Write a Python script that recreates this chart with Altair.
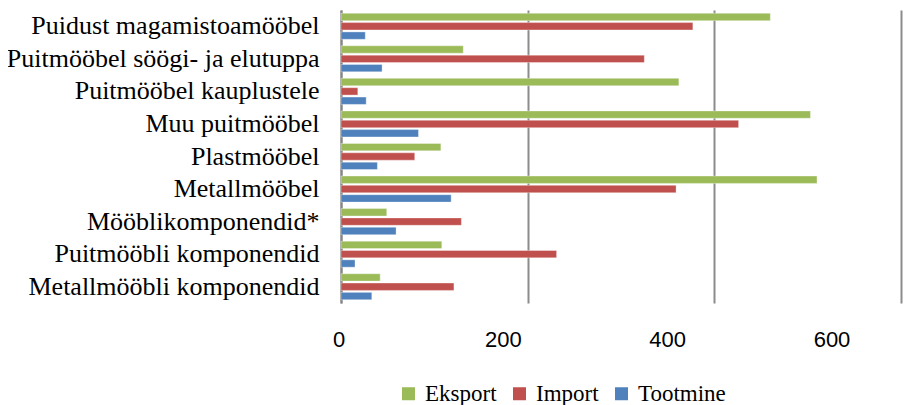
import altair as alt
import pandas as pd

categories = [
    "Puidust magamistoamööbel",
    "Puitmööbel söögi- ja elutuppa ",
    "Puitmööbel kauplustele ",
    "Muu puitmööbel ",
    "Plastmööbel",
    "Metallmööbel",
    "Mööblikomponendid*",
    "Puitmööbli komponendid ",
    "Metallmööbli komponendid",
]
series = ["Eksport", "Import", "Tootmine"]
colors = ["#9BBB59", "#C0504D", "#4F81BD"]
eksport = [460, 131, 362, 503, 107, 510, 49, 108, 42]
import_ = [377, 325, 18, 426, 79, 359, 129, 231, 121]
tootmine = [26, 44, 27, 83, 39, 118, 59, 15, 33]
tick_values = [0, 200, 400, 600]

rows = []
for i, c in enumerate(categories):
    for s, vals in zip(series, [eksport, import_, tootmine]):
        rows.append({"kategooria": c, "seeria": s, "väärtus": vals[i]})
df = pd.DataFrame(rows)
ticks_df = pd.DataFrame({"v": tick_values, "lbl": [str(t) for t in tick_values]})

bars = alt.Chart(df).mark_bar(stroke="white", strokeOpacity=0.35, strokeWidth=1).encode(
    x=alt.X(
        "väärtus:Q",
        scale=alt.Scale(domain=[0, 600], nice=False),
        axis=alt.Axis(
            values=tick_values, grid=True, gridColor="#8c8c8c", gridWidth=2,
            labels=False, ticks=False, domain=False, title=None,
        ),
    ),
    y=alt.Y(
        "kategooria:N",
        sort=categories,
        scale=alt.Scale(paddingInner=0.2, paddingOuter=0.1),
        axis=alt.Axis(
            title=None, ticks=False, domain=True, domainColor="#868686", domainWidth=2,
            labelFont="Liberation Serif", labelFontSize=26, labelColor="#000000",
            labelPadding=22, labelLimit=400,
        ),
    ),
    yOffset=alt.YOffset("seeria:N", sort=series, scale=alt.Scale(paddingInner=0.21, paddingOuter=0)),
    color=alt.Color(
        "seeria:N",
        sort=series,
        scale=alt.Scale(domain=series, range=colors),
        legend=alt.Legend(
            title=None, orient="none", direction="horizontal", legendX=56, legendY=372,
            symbolType="square", symbolSize=169, symbolStrokeWidth=0,
            labelFont="Liberation Serif", labelFontSize=23, labelColor="#000000",
            labelOffset=5, columnPadding=11, padding=0,
        ),
    ),
)

tick_labels = alt.Chart(ticks_df).mark_text(
    font="Liberation Sans", fontSize=22, color="#000000", baseline="middle", align="center"
).encode(
    x=alt.X("v:Q", scale=alt.Scale(domain=[0, 600], range=[-2, 491], nice=False), axis=None),
    y=alt.value(330),
    text="lbl:N",
)

chart = alt.layer(bars, tick_labels).resolve_scale(x="independent").properties(
    width=560,
    height=293,
    autosize="none",
    padding={"left": 333, "top": 2, "right": 14, "bottom": 110},
).configure_view(stroke=None)

chart.save("out.html", embed_options={"renderer": "svg", "actions": False})
